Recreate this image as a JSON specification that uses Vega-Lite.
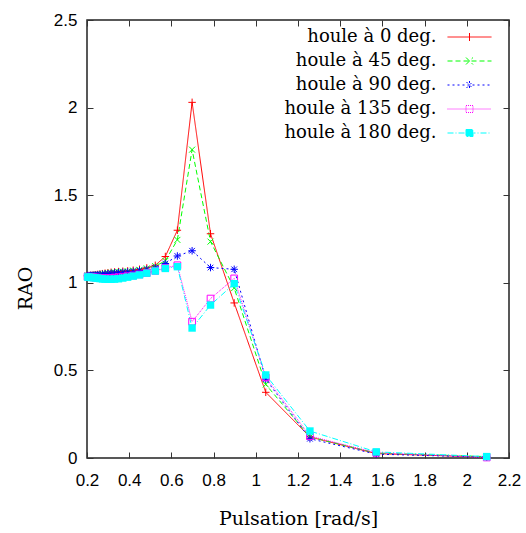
{
  "$schema": "https://vega.github.io/schema/vega-lite/v6.json",
  "width": 422,
  "height": 438,
  "autosize": {"type": "none"},
  "padding": {"left": 87, "top": 20, "right": 17, "bottom": 75},
  "background": "white",
  "config": {
    "view": {"stroke": "#222", "strokeWidth": 1.5},
    "axis": {"grid": false, "domain": false, "tickColor": "#333", "tickWidth": 1, "tickSize": -6, "labelColor": "#000", "titleColor": "#000", "labelFont": "Liberation Sans", "labelFontSize": 17, "labelFontWeight": "normal", "labelFlush": false, "labelOverlap": false, "titleFont": "DejaVu Serif", "titleFontSize": 19, "titleFontWeight": "normal"}
  },
  "data": {"values": [
    {"w":0.2027,"rao":1.04,"s":"houle à 0 deg."},{"w":0.2094,"rao":1.041,"s":"houle à 0 deg."},{"w":0.2167,"rao":1.042,"s":"houle à 0 deg."},{"w":0.2244,"rao":1.043,"s":"houle à 0 deg."},{"w":0.2327,"rao":1.044,"s":"houle à 0 deg."},{"w":0.2417,"rao":1.046,"s":"houle à 0 deg."},{"w":0.2513,"rao":1.048,"s":"houle à 0 deg."},{"w":0.2618,"rao":1.05,"s":"houle à 0 deg."},{"w":0.2732,"rao":1.052,"s":"houle à 0 deg."},{"w":0.2856,"rao":1.055,"s":"houle à 0 deg."},{"w":0.2992,"rao":1.057,"s":"houle à 0 deg."},{"w":0.3142,"rao":1.06,"s":"houle à 0 deg."},{"w":0.3307,"rao":1.062,"s":"houle à 0 deg."},{"w":0.3491,"rao":1.064,"s":"houle à 0 deg."},{"w":0.3696,"rao":1.066,"s":"houle à 0 deg."},{"w":0.3927,"rao":1.068,"s":"houle à 0 deg."},{"w":0.4189,"rao":1.072,"s":"houle à 0 deg."},{"w":0.4488,"rao":1.077,"s":"houle à 0 deg."},{"w":0.4833,"rao":1.085,"s":"houle à 0 deg."},{"w":0.5236,"rao":1.10,"s":"houle à 0 deg."},{"w":0.5712,"rao":1.15,"s":"houle à 0 deg."},{"w":0.6283,"rao":1.30,"s":"houle à 0 deg."},{"w":0.6981,"rao":2.03,"s":"houle à 0 deg."},{"w":0.7854,"rao":1.28,"s":"houle à 0 deg."},{"w":0.8976,"rao":0.885,"s":"houle à 0 deg."},{"w":1.0472,"rao":0.375,"s":"houle à 0 deg."},{"w":1.2566,"rao":0.12,"s":"houle à 0 deg."},{"w":1.5708,"rao":0.025,"s":"houle à 0 deg."},{"w":2.0944,"rao":0.005,"s":"houle à 0 deg."},
    {"w":0.2027,"rao":1.04,"s":"houle à 45 deg."},{"w":0.2094,"rao":1.041,"s":"houle à 45 deg."},{"w":0.2167,"rao":1.042,"s":"houle à 45 deg."},{"w":0.2244,"rao":1.043,"s":"houle à 45 deg."},{"w":0.2327,"rao":1.044,"s":"houle à 45 deg."},{"w":0.2417,"rao":1.045,"s":"houle à 45 deg."},{"w":0.2513,"rao":1.047,"s":"houle à 45 deg."},{"w":0.2618,"rao":1.049,"s":"houle à 45 deg."},{"w":0.2732,"rao":1.051,"s":"houle à 45 deg."},{"w":0.2856,"rao":1.053,"s":"houle à 45 deg."},{"w":0.2992,"rao":1.055,"s":"houle à 45 deg."},{"w":0.3142,"rao":1.058,"s":"houle à 45 deg."},{"w":0.3307,"rao":1.06,"s":"houle à 45 deg."},{"w":0.3491,"rao":1.062,"s":"houle à 45 deg."},{"w":0.3696,"rao":1.064,"s":"houle à 45 deg."},{"w":0.3927,"rao":1.066,"s":"houle à 45 deg."},{"w":0.4189,"rao":1.07,"s":"houle à 45 deg."},{"w":0.4488,"rao":1.074,"s":"houle à 45 deg."},{"w":0.4833,"rao":1.082,"s":"houle à 45 deg."},{"w":0.5236,"rao":1.095,"s":"houle à 45 deg."},{"w":0.5712,"rao":1.125,"s":"houle à 45 deg."},{"w":0.6283,"rao":1.245,"s":"houle à 45 deg."},{"w":0.6981,"rao":1.76,"s":"houle à 45 deg."},{"w":0.7854,"rao":1.235,"s":"houle à 45 deg."},{"w":0.8976,"rao":0.97,"s":"houle à 45 deg."},{"w":1.0472,"rao":0.42,"s":"houle à 45 deg."},{"w":1.2566,"rao":0.12,"s":"houle à 45 deg."},{"w":1.5708,"rao":0.028,"s":"houle à 45 deg."},{"w":2.0944,"rao":0.008,"s":"houle à 45 deg."},
    {"w":0.2027,"rao":1.04,"s":"houle à 90 deg."},{"w":0.2094,"rao":1.041,"s":"houle à 90 deg."},{"w":0.2167,"rao":1.042,"s":"houle à 90 deg."},{"w":0.2244,"rao":1.042,"s":"houle à 90 deg."},{"w":0.2327,"rao":1.043,"s":"houle à 90 deg."},{"w":0.2417,"rao":1.044,"s":"houle à 90 deg."},{"w":0.2513,"rao":1.045,"s":"houle à 90 deg."},{"w":0.2618,"rao":1.046,"s":"houle à 90 deg."},{"w":0.2732,"rao":1.048,"s":"houle à 90 deg."},{"w":0.2856,"rao":1.05,"s":"houle à 90 deg."},{"w":0.2992,"rao":1.052,"s":"houle à 90 deg."},{"w":0.3142,"rao":1.054,"s":"houle à 90 deg."},{"w":0.3307,"rao":1.056,"s":"houle à 90 deg."},{"w":0.3491,"rao":1.058,"s":"houle à 90 deg."},{"w":0.3696,"rao":1.06,"s":"houle à 90 deg."},{"w":0.3927,"rao":1.062,"s":"houle à 90 deg."},{"w":0.4189,"rao":1.065,"s":"houle à 90 deg."},{"w":0.4488,"rao":1.07,"s":"houle à 90 deg."},{"w":0.4833,"rao":1.076,"s":"houle à 90 deg."},{"w":0.5236,"rao":1.085,"s":"houle à 90 deg."},{"w":0.5712,"rao":1.11,"s":"houle à 90 deg."},{"w":0.6283,"rao":1.153,"s":"houle à 90 deg."},{"w":0.6981,"rao":1.183,"s":"houle à 90 deg."},{"w":0.7854,"rao":1.087,"s":"houle à 90 deg."},{"w":0.8976,"rao":1.077,"s":"houle à 90 deg."},{"w":1.0472,"rao":0.45,"s":"houle à 90 deg."},{"w":1.2566,"rao":0.11,"s":"houle à 90 deg."},{"w":1.5708,"rao":0.022,"s":"houle à 90 deg."},{"w":2.0944,"rao":0.005,"s":"houle à 90 deg."},
    {"w":0.2027,"rao":1.035,"s":"houle à 135 deg."},{"w":0.2094,"rao":1.034,"s":"houle à 135 deg."},{"w":0.2167,"rao":1.033,"s":"houle à 135 deg."},{"w":0.2244,"rao":1.032,"s":"houle à 135 deg."},{"w":0.2327,"rao":1.031,"s":"houle à 135 deg."},{"w":0.2417,"rao":1.03,"s":"houle à 135 deg."},{"w":0.2513,"rao":1.029,"s":"houle à 135 deg."},{"w":0.2618,"rao":1.028,"s":"houle à 135 deg."},{"w":0.2732,"rao":1.027,"s":"houle à 135 deg."},{"w":0.2856,"rao":1.027,"s":"houle à 135 deg."},{"w":0.2992,"rao":1.027,"s":"houle à 135 deg."},{"w":0.3142,"rao":1.028,"s":"houle à 135 deg."},{"w":0.3307,"rao":1.03,"s":"houle à 135 deg."},{"w":0.3491,"rao":1.032,"s":"houle à 135 deg."},{"w":0.3696,"rao":1.035,"s":"houle à 135 deg."},{"w":0.3927,"rao":1.038,"s":"houle à 135 deg."},{"w":0.4189,"rao":1.042,"s":"houle à 135 deg."},{"w":0.4488,"rao":1.048,"s":"houle à 135 deg."},{"w":0.4833,"rao":1.056,"s":"houle à 135 deg."},{"w":0.5236,"rao":1.068,"s":"houle à 135 deg."},{"w":0.5712,"rao":1.085,"s":"houle à 135 deg."},{"w":0.6283,"rao":1.10,"s":"houle à 135 deg."},{"w":0.6981,"rao":0.778,"s":"houle à 135 deg."},{"w":0.7854,"rao":0.91,"s":"houle à 135 deg."},{"w":0.8976,"rao":1.025,"s":"houle à 135 deg."},{"w":1.0472,"rao":0.46,"s":"houle à 135 deg."},{"w":1.2566,"rao":0.125,"s":"houle à 135 deg."},{"w":1.5708,"rao":0.03,"s":"houle à 135 deg."},{"w":2.0944,"rao":0.003,"s":"houle à 135 deg."},
    {"w":0.2027,"rao":1.033,"s":"houle à 180 deg."},{"w":0.2094,"rao":1.032,"s":"houle à 180 deg."},{"w":0.2167,"rao":1.031,"s":"houle à 180 deg."},{"w":0.2244,"rao":1.03,"s":"houle à 180 deg."},{"w":0.2327,"rao":1.029,"s":"houle à 180 deg."},{"w":0.2417,"rao":1.028,"s":"houle à 180 deg."},{"w":0.2513,"rao":1.026,"s":"houle à 180 deg."},{"w":0.2618,"rao":1.024,"s":"houle à 180 deg."},{"w":0.2732,"rao":1.022,"s":"houle à 180 deg."},{"w":0.2856,"rao":1.021,"s":"houle à 180 deg."},{"w":0.2992,"rao":1.02,"s":"houle à 180 deg."},{"w":0.3142,"rao":1.02,"s":"houle à 180 deg."},{"w":0.3307,"rao":1.021,"s":"houle à 180 deg."},{"w":0.3491,"rao":1.023,"s":"houle à 180 deg."},{"w":0.3696,"rao":1.027,"s":"houle à 180 deg."},{"w":0.3927,"rao":1.032,"s":"houle à 180 deg."},{"w":0.4189,"rao":1.038,"s":"houle à 180 deg."},{"w":0.4488,"rao":1.045,"s":"houle à 180 deg."},{"w":0.4833,"rao":1.055,"s":"houle à 180 deg."},{"w":0.5236,"rao":1.067,"s":"houle à 180 deg."},{"w":0.5712,"rao":1.082,"s":"houle à 180 deg."},{"w":0.6283,"rao":1.092,"s":"houle à 180 deg."},{"w":0.6981,"rao":0.742,"s":"houle à 180 deg."},{"w":0.7854,"rao":0.873,"s":"houle à 180 deg."},{"w":0.8976,"rao":0.995,"s":"houle à 180 deg."},{"w":1.0472,"rao":0.474,"s":"houle à 180 deg."},{"w":1.2566,"rao":0.154,"s":"houle à 180 deg."},{"w":1.5708,"rao":0.035,"s":"houle à 180 deg."},{"w":2.0944,"rao":0.008,"s":"houle à 180 deg."}
  ]},
  "resolve": {"axis": {"x": "independent", "y": "independent"}},
  "layer": [
    {
      "mark": {"type": "line", "strokeWidth": 1, "clip": true},
      "encoding": {
        "x": {"field": "w", "type": "quantitative", "scale": {"domain": [0.2, 2.2], "nice": false, "zero": false},
              "axis": {"orient": "bottom", "values": [0.2,0.4,0.6,0.8,1,1.2,1.4,1.6,1.8,2,2.2], "format": "~g", "labelPadding": 20, "title": "Pulsation [rad/s]", "titleFont": "DejaVu Serif", "titleFontSize": 19, "titleBaseline": "middle", "titleY": 60}},
        "y": {"field": "rao", "type": "quantitative", "scale": {"domain": [0, 2.5], "nice": false},
              "axis": {"orient": "left", "values": [0,0.5,1,1.5,2,2.5], "format": "~g", "labelPadding": 16, "title": "RAO", "titleFont": "DejaVu Serif", "titleFontSize": 19, "titleX": -62, "titleY": 268, "titleAlign": "center", "titleBaseline": "middle"}},
        "color": {"field": "s", "type": "nominal",
                  "scale": {"domain": ["houle à 0 deg.","houle à 45 deg.","houle à 90 deg.","houle à 135 deg.","houle à 180 deg."], "range": ["#ff0000","#00ff00","#0000ff","#ff00ff","#00ffff"]},
                  "legend": {"orient": "none", "legendX": 373.5, "legendY": 8, "title": null, "padding": 0, "symbolSize": 100, "symbolStrokeWidth": 1, "symbolOpacity": 1, "labelFont": "DejaVu Serif", "labelFontSize": 18, "labelColor": "#000", "labelAlign": "right", "labelOffset": -42, "labelLimit": 300, "rowPadding": 6}},
        "strokeDash": {"field": "s", "type": "nominal",
                       "scale": {"domain": ["houle à 0 deg.","houle à 45 deg.","houle à 90 deg.","houle à 135 deg.","houle à 180 deg."], "range": [[1,0],[5,3],[2,3],[1,1],[6,2,1,2]]}}
      }
    },
    {
      "transform": [{"filter": "false"}],
      "mark": {"type": "point", "size": 100, "strokeWidth": 1, "opacity": 1, "filled": false},
      "encoding": {
        "x": {"field": "w", "type": "quantitative",
              "axis": {"orient": "top", "values": [0.2,0.4,0.6,0.8,1,1.2,1.4,1.6,1.8,2,2.2], "labels": false, "title": null}},
        "y": {"field": "rao", "type": "quantitative",
              "axis": {"orient": "right", "values": [0,0.5,1,1.5,2,2.5], "labels": false, "title": null}},
        "color": {"field": "s", "type": "nominal"},
        "shape": {"field": "s", "type": "nominal",
                  "scale": {"domain": ["houle à 0 deg.","houle à 45 deg.","houle à 90 deg.","houle à 135 deg.","houle à 180 deg."], "range": ["M-4.4,0H4.4M0,-0.8V0.8","M-4.4,0H4.4M-0.7,-0.7L0.7,0.7M-0.7,0.7L0.7,-0.7","M-4.4,0H4.4M0,-0.8V0.8M-0.6,-0.6L0.6,0.6M-0.6,0.6L0.6,-0.6","M-4.4,0H4.4M-0.7,-0.7H0.7V0.7H-0.7Z","M-4.4,0H4.4M-0.7,-0.7H0.7V0.7H-0.7Z"]}},
        "fill": {"field": "s", "type": "nominal",
                 "scale": {"domain": ["houle à 0 deg.","houle à 45 deg.","houle à 90 deg.","houle à 135 deg.","houle à 180 deg."], "range": ["transparent","transparent","transparent","transparent","#00ffff"]}}
      }
    },
    {
      "transform": [{"filter": {"field": "s", "equal": "houle à 0 deg."}}],
      "mark": {"type": "point", "size": 56, "strokeWidth": 1, "opacity": 1, "filled": false, "color": "#ff0000", "shape": "M-1,0H1M0,-1V1"},
      "encoding": {"x": {"field": "w", "type": "quantitative", "axis": null}, "y": {"field": "rao", "type": "quantitative", "axis": null}}
    },
    {
      "transform": [{"filter": {"field": "s", "equal": "houle à 45 deg."}}],
      "mark": {"type": "point", "size": 56, "strokeWidth": 1, "opacity": 1, "filled": false, "color": "#00ff00", "shape": "M-0.8,-0.8L0.8,0.8M-0.8,0.8L0.8,-0.8"},
      "encoding": {"x": {"field": "w", "type": "quantitative", "axis": null}, "y": {"field": "rao", "type": "quantitative", "axis": null}}
    },
    {
      "transform": [{"filter": {"field": "s", "equal": "houle à 90 deg."}}],
      "mark": {"type": "point", "size": 56, "strokeWidth": 1, "opacity": 1, "filled": false, "color": "#0000ff", "shape": "M-1,0H1M0,-1V1M-0.75,-0.75L0.75,0.75M-0.75,0.75L0.75,-0.75"},
      "encoding": {"x": {"field": "w", "type": "quantitative", "axis": null}, "y": {"field": "rao", "type": "quantitative", "axis": null}}
    },
    {
      "transform": [{"filter": {"field": "s", "equal": "houle à 135 deg."}}],
      "mark": {"type": "point", "size": 45, "strokeWidth": 1, "opacity": 1, "filled": false, "color": "#ff00ff", "shape": "square"},
      "encoding": {"x": {"field": "w", "type": "quantitative", "axis": null}, "y": {"field": "rao", "type": "quantitative", "axis": null}}
    },
    {
      "transform": [{"filter": {"field": "s", "equal": "houle à 180 deg."}}],
      "mark": {"type": "point", "size": 55, "strokeWidth": 1, "opacity": 1, "filled": true, "color": "#00ffff", "shape": "square"},
      "encoding": {"x": {"field": "w", "type": "quantitative", "axis": null}, "y": {"field": "rao", "type": "quantitative", "axis": null}}
    }
  ]
}
